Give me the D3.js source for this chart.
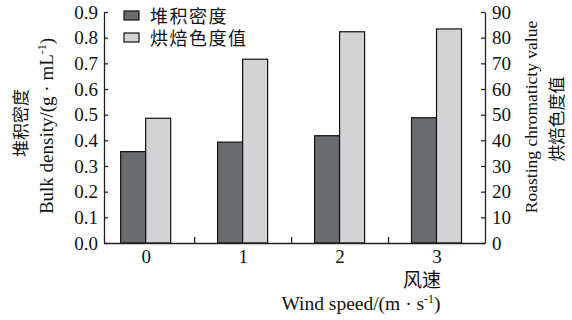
<!DOCTYPE html>
<html>
<head>
<meta charset="utf-8">
<script src="https://cdn.jsdelivr.net/npm/d3@7"></script>
<style>
  body { margin: 0; background: #fff; }
  svg text { font-family: "Liberation Serif", "Times New Roman", serif; fill: #111; }
  .cjk { font-family: "Noto Sans CJK SC", sans-serif; }
</style>
</head>
<body>
<div id="chart"></div>
<script>
var windSpeeds = [0, 1, 2, 3];
var bulkDensity = [0.356, 0.393, 0.418, 0.488];
var roastValue = [48.6, 71.6, 82.3, 83.4];
var leftTicks = [0, 0.1, 0.2, 0.3, 0.4, 0.5, 0.6, 0.7, 0.8, 0.9];
var rightTicks = [0, 10, 20, 30, 40, 50, 60, 70, 80, 90];
var seriesNames = ["堆积密度", "烘焙色度值"];
var seriesColors = ["#6a6b6f", "#d2d3d5"];

var width = 572, height = 320;
var plotLeft = 104, plotRight = 485, plotTop = 12, plotBottom = 243;

var svg = d3.select("#chart").append("svg")
    .attr("width", width)
    .attr("height", height);

var x = d3.scaleLinear().domain([-0.43, 3.5]).range([plotLeft, plotRight]);
var yL = d3.scaleLinear().domain([0, 0.9]).range([plotBottom, plotTop]);
var yR = d3.scaleLinear().domain([0, 90]).range([plotBottom, plotTop]);
var sub = d3.scaleBand().domain([0, 1]).range([-25, 25]);

// bars
windSpeeds.forEach(function (w, i) {
    svg.append("rect")
        .attr("x", x(w) + sub(0))
        .attr("y", yL(bulkDensity[i]))
        .attr("width", sub.bandwidth())
        .attr("height", yL(0) - yL(bulkDensity[i]))
        .style("fill", seriesColors[0])
        .style("stroke", "#111")
        .style("stroke-width", 1.2);
    svg.append("rect")
        .attr("x", x(w) + sub(1))
        .attr("y", yR(roastValue[i]))
        .attr("width", sub.bandwidth())
        .attr("height", yR(0) - yR(roastValue[i]))
        .style("fill", seriesColors[1])
        .style("stroke", "#111")
        .style("stroke-width", 1.2);
});

// axes
var axL = svg.append("g").attr("transform", "translate(" + plotLeft + ",0)")
    .call(d3.axisLeft(yL).tickValues(leftTicks).tickFormat(d3.format(".1f"))
        .tickSizeInner(-4).tickSizeOuter(0).tickPadding(6));
var axR = svg.append("g").attr("transform", "translate(" + plotRight + ",0)")
    .call(d3.axisRight(yR).tickValues(rightTicks)
        .tickSizeInner(-4).tickSizeOuter(0).tickPadding(7));
var axB = svg.append("g").attr("transform", "translate(0," + plotBottom + ")")
    .call(d3.axisBottom(x).tickValues([0.5, 1.5, 2.5]).tickFormat("")
        .tickSizeInner(-6).tickSizeOuter(0));
var axB2 = svg.append("g").attr("transform", "translate(0," + plotBottom + ")")
    .call(d3.axisBottom(x).tickValues(windSpeeds).tickFormat(d3.format("d"))
        .tickSize(0).tickPadding(7));
axB2.select(".domain").remove();

[axL, axR, axB, axB2].forEach(function (a) {
    a.selectAll("path, line").style("stroke", "#222").style("stroke-width", 1.3);
    a.selectAll("text").style("font-family", "Liberation Serif, serif")
        .style("font-size", "19px").style("fill", "#111");
});

// legend
seriesNames.forEach(function (n, i) {
    svg.append("rect")
        .attr("x", 124).attr("y", 11 + i * 22)
        .attr("width", 15).attr("height", 9)
        .style("fill", seriesColors[i])
        .style("stroke", "#111").style("stroke-width", 1.2);
    svg.append("text").attr("class", "cjk")
        .attr("x", 150).attr("y", 23 + i * 22)
        .style("font-size", "18px")
        .style("letter-spacing", "1.5px")
        .text(n);
});

// left title
svg.append("text").attr("class", "cjk")
    .attr("transform", "translate(27,123) rotate(-90)")
    .attr("text-anchor", "middle")
    .style("font-size", "17px")
    .text("堆积密度");
var lt = svg.append("text")
    .attr("transform", "translate(53,126) rotate(-90)")
    .attr("text-anchor", "middle")
    .style("font-size", "19px");
lt.append("tspan").text("Bulk density/(g · mL");
lt.append("tspan").attr("dy", -7).style("font-size", "12px").text("-1");
lt.append("tspan").attr("dy", 7).text(")");

// right title
svg.append("text")
    .attr("transform", "translate(537,117) rotate(-90)")
    .attr("text-anchor", "middle")
    .style("font-size", "17.5px")
    .text("Roasting chromaticty value");
svg.append("text").attr("class", "cjk")
    .attr("transform", "translate(563,119) rotate(-90)")
    .attr("text-anchor", "middle")
    .style("font-size", "17px")
    .text("烘焙色度值");

// x title
svg.append("text").attr("class", "cjk")
    .attr("x", 422).attr("y", 287)
    .attr("text-anchor", "middle")
    .style("font-size", "19px")
    .text("风速");
var xt = svg.append("text")
    .attr("x", 361).attr("y", 310)
    .attr("text-anchor", "middle")
    .style("font-size", "19.5px");
xt.append("tspan").text("Wind speed/(m · s");
xt.append("tspan").attr("dy", -7).style("font-size", "12px").text("-1");
xt.append("tspan").attr("dy", 7).text(")");
</script>
</body>
</html>
